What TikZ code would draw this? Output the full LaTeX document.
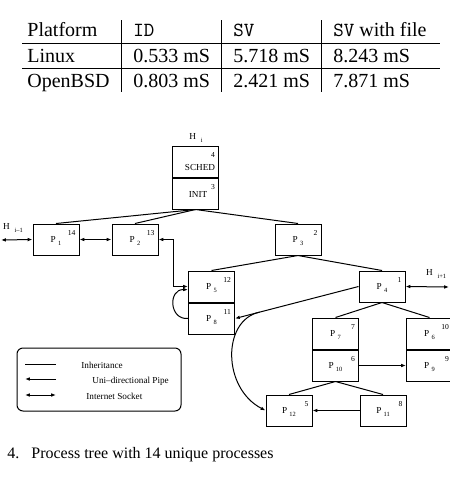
\documentclass[tikz,border=0pt]{standalone}
\usepackage{fontspec}
\setmainfont{Liberation Serif}
\usetikzlibrary{arrows.meta, positioning, calc}
\newcommand{\pname}[1]{P\hspace{1.1pt}\raisebox{-1.6pt}[0pt][0pt]{\fontsize{3.2}{3.2}\selectfont #1}}
\newcommand{\hname}[1]{H\hspace{2.4pt}\raisebox{-1.8pt}[0pt][0pt]{\fontsize{3.2}{3.2}\selectfont #1}}
\tikzset{
  cell/.style={anchor=base west, inner sep=0pt, font=\fontsize{10}{12}\selectfont},
  rule/.style={line width=0.5pt},
  pbox/.style={draw, line width=0.5pt, minimum width=23pt, minimum height=15.5pt, inner sep=0pt, font=\fontsize{4.6}{5}\selectfont},
  tagnum/.style={anchor=north east, inner sep=0pt, xshift=-1.8pt, yshift=-3.4pt, font=\fontsize{3.8}{4}\selectfont},
  tag/.style={label={[tagnum]north east:#1}},
  txt/.style={inner sep=0pt, font=\fontsize{4.6}{5}\selectfont},
  inherit/.style={line width=0.5pt},
  pipe/.style={-{Latex[length=2.4pt,width=1.8pt]}, line width=0.5pt},
  socket/.style={{Latex[length=2.4pt,width=1.8pt]}-{Latex[length=2.4pt,width=1.8pt]}, line width=0.5pt},
  legendbox/.style={draw, line width=0.5pt, rounded corners=3pt, minimum width=82pt, minimum height=31.5pt},
  caption/.style={anchor=base west, inner sep=0pt, font=\fontsize{8}{10}\selectfont}
}
\begin{document}
\begin{tikzpicture}[x=0.5pt, y=-0.5pt]
\useasboundingbox (0,0) rectangle (450,488);

% timing table
\foreach \yy/\ca/\cb/\cc/\cd [count=\r] in {36/Platform/\texttt{ID}/\texttt{SV}/{\texttt{SV} with file},
    62/Linux/0.533 mS/5.718 mS/8.243 mS, 87/OpenBSD/0.803 mS/2.421 mS/7.871 mS} {
  \node[cell] (t\r a) at (27,\yy) {\ca};
  \node[cell] (t\r b) at (133,\yy) {\cb};
  \node[cell] (t\r c) at (233,\yy) {\cc};
  \node[cell] (t\r d) at (333,\yy) {\cd};
}
\foreach \yy in {43,68} \draw[rule] (22,\yy) -- (440,\yy);
\foreach \xx in {121,221,321} \draw[rule] (\xx,20) -- (\xx,92);

% process tree
\node[pbox, tag=4] (sched) at (195.5,161.5) {};
\node[pbox, tag=3, below=0pt of sched] (init) {};
\node[txt] (schedtxt) at (200,167) {SCHED};
\node[txt] (inittxt) at (198,194) {INIT};
\node[txt, anchor=west] (hi) at (189,136) {\hname{i}};

\node[pbox, tag=14] (P1) at (56,239.5) {\pname{1}};
\node[pbox, tag=13, right=16pt of P1] (P2) {\pname{2}};
\node[pbox, tag=2, right=58pt of P2] (P3) {\pname{3}};
\node[txt, anchor=west] (him) at (2.7,226) {\hname{i--1}};

\node[pbox, tag=12] (P5) at (211.5,286.5) {\pname{5}};
\node[pbox, tag=11, below=0pt of P5] (P8) {\pname{8}};
\node[pbox, tag=1] (P4) at (382,286.5) {\pname{4}};
\node[txt, anchor=west] (hip) at (425.7,272) {\hname{i+1}};

\node[pbox, tag=7] (P7) at (335.5,333.5) {\pname{7}};
\node[pbox, tag=6, below=0pt of P7] (P10) {\pname{10}};
\node[pbox, tag=10] (P6) at (429.5,333.5) {\pname{6}};
\node[pbox, tag=9, below=0pt of P6] (P9) {\pname{9}};

\node[pbox, tag=5] (P12) at (289,410.5) {\pname{12}};
\node[pbox, tag=8, right=23.5pt of P12] (P11) {\pname{11}};

\coordinate (hl) at (1,240);
\coordinate (hr) at (449,287);

% inheritance
\draw[inherit] (init.south) -- (P1.north);
\draw[inherit] (init.south) -- (P2.north);
\draw[inherit] (init.south) -- (P3.north);
\draw[inherit] (P3.south) -- (P5.north);
\draw[inherit] (P3.south) -- (P4.north);
\draw[inherit] (P4.south) -- (P7.north);
\draw[inherit] (P4.south) -- (P6.north);
\draw[inherit] (P10.south) -- (P12.north);
\draw[inherit] (P10.south) -- (P11.north);

% sockets
\draw[socket] (hl) -- (P1.west);
\draw[socket] (P1.east) -- (P2.west);
\draw[socket] (P2.east) -| ([xshift=-7.5pt]P5.west) -- (P5.west);
\draw[socket] (P4.east) -- (hr);

% pipes
\draw[pipe] (P8.west) .. controls (169,320) and (168,289) .. ([yshift=-1.6pt]P5.west);
\draw[pipe] (P4.west) -- (P8.east);
\coordinate (branch) at ($(P4.west)!0.8!(P8.east)$);
\draw[pipe] (branch) .. controls (222,320) and (222,388) .. (P12.west);
\draw[pipe] (P10.east) -- (P9.west);
\draw[pipe] (P11.west) -- (P12.east);

% legend
\node[legendbox] (legend) at (99,379.5) {};
\coordinate (la) at (25,364); \coordinate (lb) at (56,364);
\coordinate (lc) at (25,379); \coordinate (ld) at (56,379);
\coordinate (le) at (25,395); \coordinate (lf) at (56,395);
\draw[inherit] (la) -- (lb);
\draw[pipe] (ld) -- (lc);
\draw[socket] (le) -- (lf);
\node[txt, anchor=west] (linh) at (81,365) {Inheritance};
\node[txt, anchor=west] (lpipe) at (92,381) {Uni--directional Pipe};
\node[txt, anchor=west] (lsock) at (86,396) {Internet Socket};

\node[caption] (cap) at (7,458) {4.\hspace{6pt}Process tree with 14 unique processes};
\end{tikzpicture}
\end{document}
